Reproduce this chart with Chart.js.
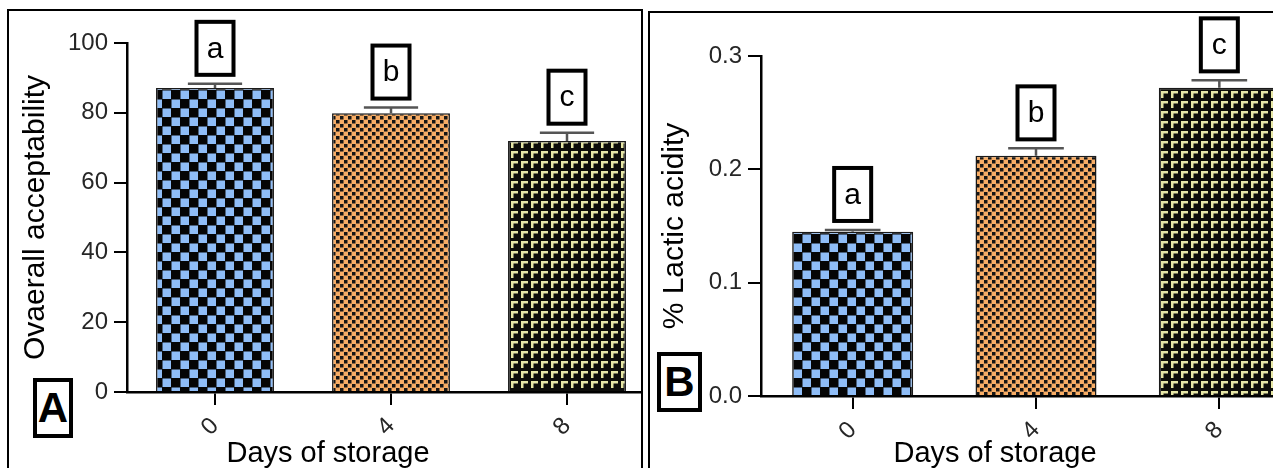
<!DOCTYPE html>
<html><head><meta charset="utf-8">
<script src="https://cdn.jsdelivr.net/npm/chart.js@4.4.1/dist/chart.umd.min.js"></script>
<style>
html,body{margin:0;padding:0;background:#fff;width:1273px;height:468px;overflow:hidden;font-family:"Liberation Sans",Arial,sans-serif;}
.panel{position:absolute;border:2px solid #000;overflow:hidden;background:#fff;}
#pA{left:7px;top:9px;width:632px;height:470px;}
#pB{left:648px;top:11px;width:640px;height:470px;}
canvas{position:absolute;}
#cA{left:-9px;top:-11px;}
#cB{left:-10px;top:-13px;}
.xt{position:absolute;font-size:29px;line-height:29px;color:#000;white-space:nowrap;transform:translateX(-50%);}
.plabel{position:absolute;border:4px solid #000;box-sizing:border-box;font-weight:bold;font-size:42px;text-align:center;background:#fff;color:#000;}
</style></head>
<body>
<div class="panel" id="pA"><canvas id="cA" width="700" height="468"></canvas></div>
<div class="panel" id="pB"><canvas id="cB" width="690" height="468"></canvas></div>
<div class="xt" style="left:328px;top:438px;">Days of storage</div>
<div class="xt" style="left:995px;top:438px;">Days of storage</div>
<div class="plabel" style="left:33px;top:378px;width:40px;height:60px;line-height:52px;">A</div>
<div class="plabel" style="left:657px;top:352px;width:45px;height:60px;line-height:52px;">B</div>
<script>
// ---- data ----
const days = ['0', '4', '8'];
const acceptMean = [87.1, 79.9, 71.9];
const acceptErr = [1.2, 1.6, 2.4];
const acceptLetters = ['a', 'b', 'c'];
const acceptTicks = [0, 20, 40, 60, 80, 100];
const lacticMean = [0.145, 0.212, 0.272];
const lacticErr = [0.0015, 0.0065, 0.0065];
const lacticLetters = ['a', 'b', 'c'];
const lacticTicks = [0, 0.1, 0.2, 0.3];

const FAM = '"Liberation Sans", Arial, sans-serif';
Chart.defaults.font.family = FAM;

function makePattern(size, draw) {
  const c = document.createElement('canvas');
  c.width = size; c.height = size;
  const g = c.getContext('2d');
  draw(g, size);
  return document.createElement('canvas').getContext('2d').createPattern(c, 'repeat');
}
const patBlue = makePattern(18, (g) => {
  g.fillStyle = '#050505'; g.fillRect(0, 0, 18, 18);
  g.fillStyle = '#8fbdf7';
  g.fillRect(0.5, 0.5, 8.5, 8.5); g.fillRect(9.5, 9.5, 8.5, 8.5);
});
const patOrange = makePattern(8, (g) => {
  g.fillStyle = '#f7ad66'; g.fillRect(0, 0, 8, 8);
  g.fillStyle = '#151515';
  g.fillRect(0, 0, 3.5, 3.5); g.fillRect(4, 4, 3.5, 3.5);
});
const patYellow = makePattern(10, (g) => {
  g.fillStyle = '#0d0d0a'; g.fillRect(0, 0, 10, 10);
  g.fillStyle = '#e6e6a6';
  g.fillRect(1, 1, 7, 2.5); g.fillRect(1, 1, 2.5, 7);
});
const patterns = [patBlue, patOrange, patYellow];

const annot = {
  id: 'annot',
  afterDatasetsDraw(chart, args, opts) {
    const ctx = chart.ctx;
    const meta = chart.getDatasetMeta(0);
    const y = chart.scales.y;
    meta.data.forEach((bar, i) => {
      const v = opts.mean[i], e = opts.err[i];
      const yTop = y.getPixelForValue(v), yCap = y.getPixelForValue(v + e);
      const half = bar.width * 0.23;
      ctx.save();
      ctx.strokeStyle = '#555'; ctx.lineWidth = 2.5;
      ctx.beginPath();
      ctx.moveTo(bar.x, yTop); ctx.lineTo(bar.x, yCap);
      ctx.moveTo(bar.x - half, yCap); ctx.lineTo(bar.x + half, yCap);
      ctx.stroke();
      const bw = 41, bh = 57, gap = 7;
      const by = yCap - gap - bh;
      ctx.fillStyle = '#fff';
      ctx.fillRect(bar.x - bw / 2, by, bw, bh);
      ctx.lineWidth = 4; ctx.strokeStyle = '#000';
      ctx.strokeRect(bar.x - bw / 2 + 2, by + 2, bw - 4, bh - 4);
      ctx.fillStyle = '#000';
      ctx.font = '30px ' + FAM;
      ctx.textAlign = 'center'; ctx.textBaseline = 'middle';
      ctx.fillText(opts.letters[i], bar.x, by + bh / 2 + 1);
      ctx.restore();
    });
  }
};

function makeChart(id, mean, err, letters, ticks, yTitle, fmt, pad, yWidth, barPct) {
  const tickList = ticks.slice();
  return new Chart(document.getElementById(id), {
    type: 'bar',
    data: {
      labels: days,
      datasets: [{
        data: mean,
        backgroundColor: patterns,
        borderColor: '#1a1a1a',
        borderWidth: 1.5,
        barPercentage: barPct,
        categoryPercentage: 1
      }]
    },
    options: {
      responsive: false,
      animation: false,
      devicePixelRatio: 1,
      layout: { padding: { left: pad.left, right: pad.right, top: pad.top, bottom: pad.bottom } },
      plugins: {
        legend: { display: false },
        tooltip: { enabled: false },
        annot: { mean: mean, err: err, letters: letters }
      },
      scales: {
        x: {
          offset: true,
          grid: { display: true, drawOnChartArea: false, drawTicks: true, tickLength: 13, color: '#000', lineWidth: 2, offset: false },
          border: { display: true, color: '#000', width: 2.5 },
          ticks: { color: '#262626', font: { size: 24 }, minRotation: 45, maxRotation: 45, padding: 7 },
          afterFit(s) { s.height = pad.bottomAxis; }
        },
        y: {
          min: tickList[0],
          max: tickList[tickList.length - 1],
          afterBuildTicks(s) { s.ticks = tickList.map(v => ({ value: v })); },
          grid: { display: true, drawOnChartArea: false, drawTicks: true, tickLength: 13, color: '#000', lineWidth: 2 },
          border: { display: true, color: '#000', width: 2.5 },
          ticks: { color: '#262626', font: { size: 24 }, padding: 6, callback: fmt },
          title: { display: true, text: yTitle, color: '#000', font: { size: 30 }, padding: 0 },
          afterFit(s) { s.width = yWidth; }
        }
      }
    },
    plugins: [annot]
  });
}

makeChart('cA', acceptMean, acceptErr, acceptLetters, acceptTicks, 'Ovaerall acceptability',
  v => String(v), { left: 18, right: 45, top: 43, bottom: 6, bottomAxis: 70 }, 109, 0.67);
makeChart('cB', lacticMean, lacticErr, lacticLetters, lacticTicks, '% Lactic acidity',
  v => Number(v).toFixed(1), { left: 17, right: 19, top: 56, bottom: 6, bottomAxis: 66 }, 104, 0.66);
</script>
</body></html>
